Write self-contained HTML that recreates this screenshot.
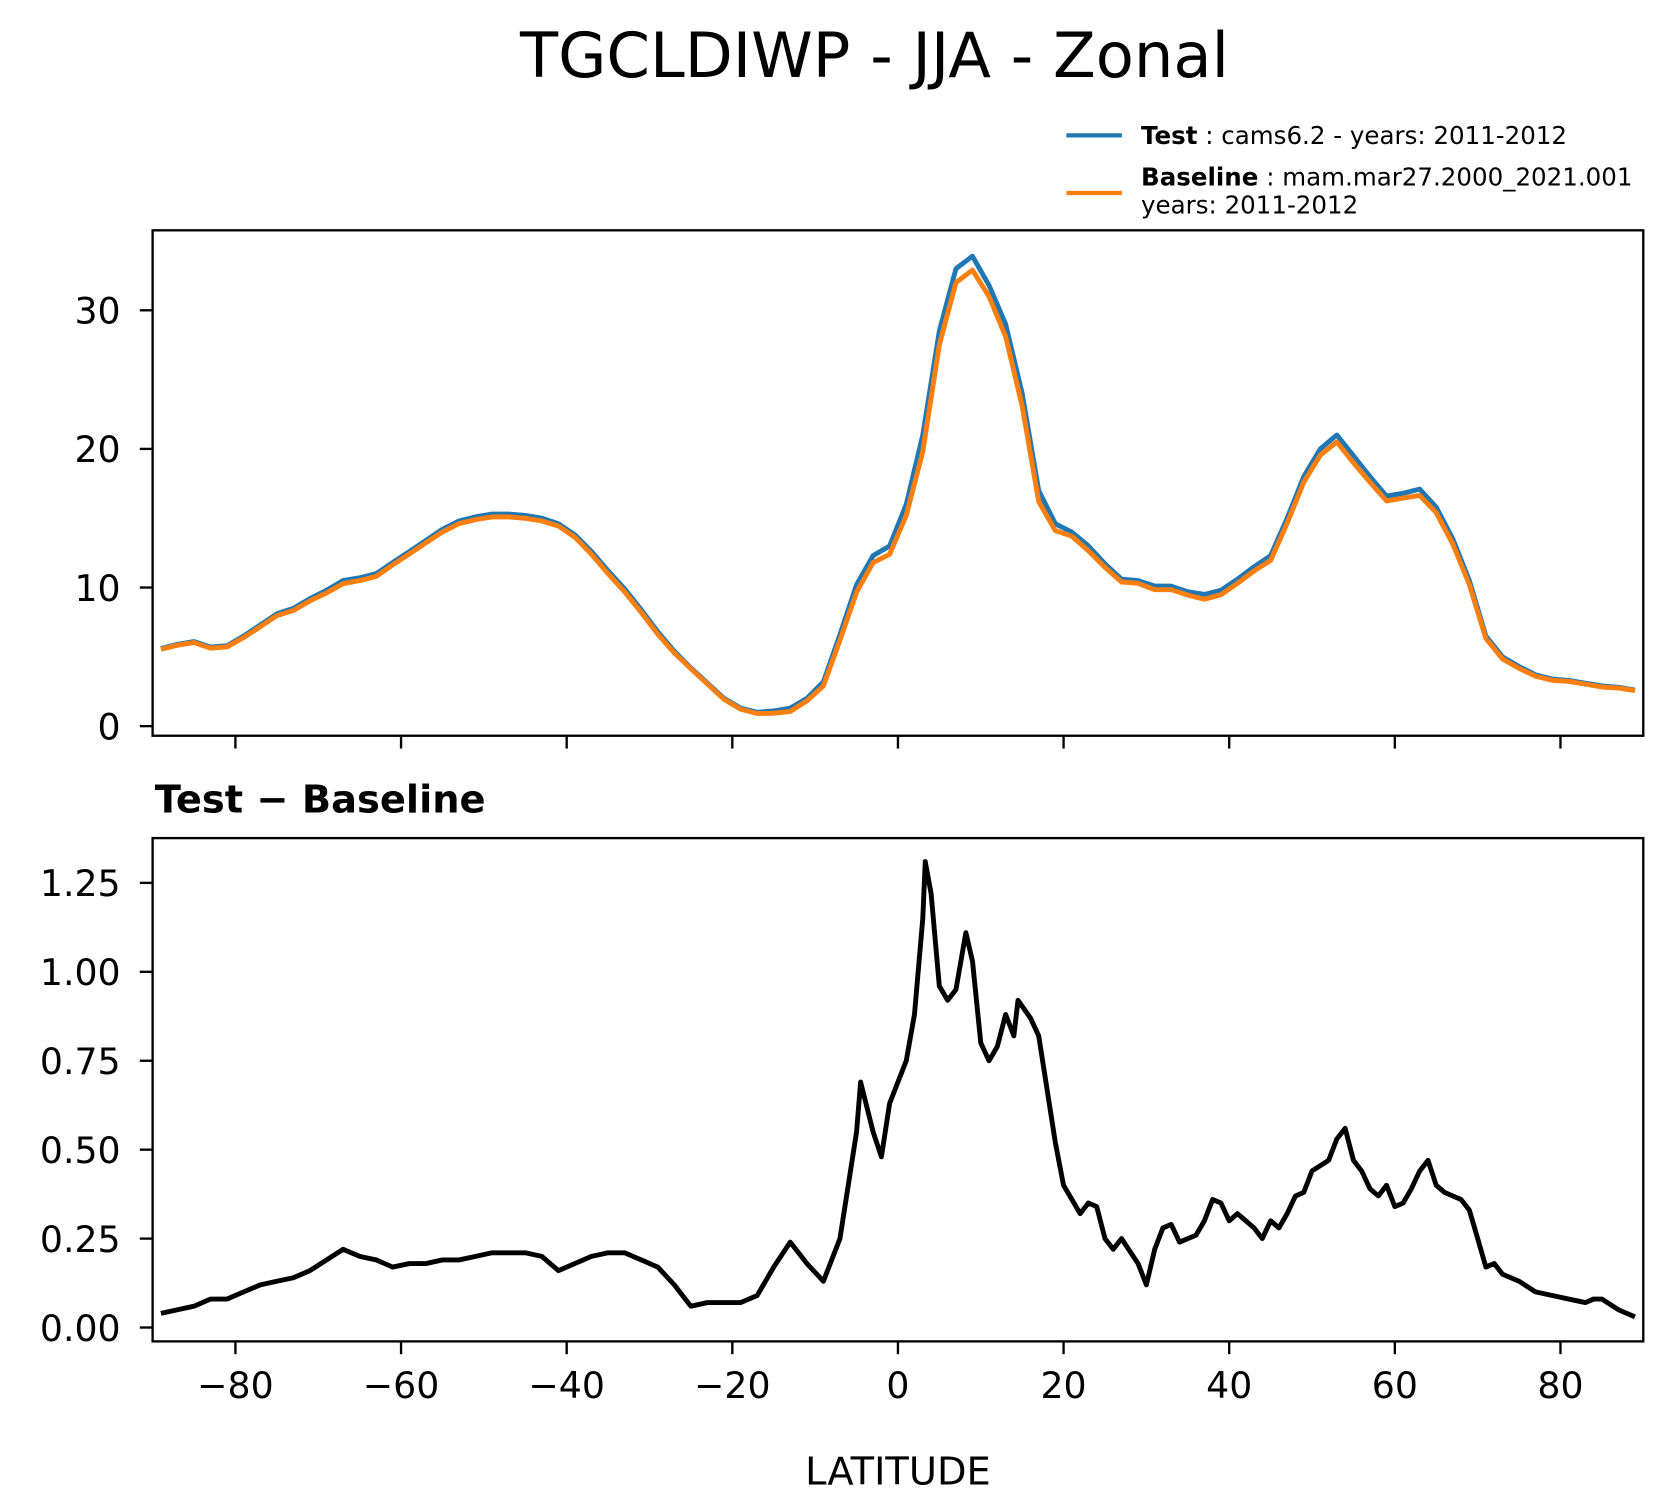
<!DOCTYPE html>
<html><head><meta charset="utf-8"><style>
body{margin:0;background:#fff;}
svg{display:block;font-family:"DejaVu Sans","Liberation Sans",sans-serif;}
</style></head><body>
<svg id="chart" width="1669" height="1496" viewBox="0 0 1565 1403">
<rect width="1565" height="1403" fill="#fff"/>
<text x="820" y="72" font-size="58.5" text-anchor="middle">TGCLDIWP - JJA - Zonal</text>
<g>
 <line x1="1000" y1="127" x2="1052" y2="127" stroke="#1f77b4" stroke-width="4"/>
 <text x="1070" y="135" font-size="23"><tspan font-weight="bold">Test</tspan> : cams6.2 - years: 2011-2012</text>
 <line x1="1000" y1="181" x2="1052" y2="181" stroke="#ff7f0e" stroke-width="4"/>
 <text x="1070" y="174" font-size="23"><tspan font-weight="bold">Baseline</tspan> : mam.mar27.2000_2021.001</text>
 <text x="1070" y="200" font-size="23">years: 2011-2012</text>
</g>
<text x="145" y="762" font-size="36" font-weight="bold">Test − Baseline</text>
<text x="842" y="1392" font-size="36" text-anchor="middle">LATITUDE</text>
<g id="gtop"></g>
<g id="gbot"></g>
</svg>
<script>
const topLat=[-89,-87,-85,-83,-81,-79,-77,-75,-73,-71,-69,-67,-65,-63,-61,-59,-57,-55,-53,-51,-49,-47,-45,-43,-41,-39,-37,-35,-33,-31,-29,-27,-25,-23,-21,-19,-17,-15,-13,-11,-9,-7,-5,-3,-1,1,3,5,7,9,11,13,15,17,19,21,23,25,27,29,31,33,35,37,39,41,43,45,47,49,51,53,55,57,59,61,63,65,67,69,71,73,75,77,79,81,83,85,87,89];
const testVals=[5.6,5.9,6.1,5.7,5.8,6.5,7.3,8.1,8.5,9.2,9.8,10.5,10.7,11.0,11.8,12.6,13.4,14.2,14.8,15.1,15.3,15.3,15.2,15.0,14.6,13.8,12.6,11.2,9.9,8.4,6.8,5.4,4.2,3.1,2.0,1.3,1.0,1.1,1.3,2.0,3.2,6.6,10.2,12.3,13.0,16.0,21.0,28.5,33.0,33.9,31.8,29.0,24.0,17.0,14.6,14.0,13.0,11.7,10.6,10.5,10.1,10.1,9.7,9.5,9.8,10.6,11.5,12.3,15.0,18.0,20.0,21.0,19.5,18.0,16.6,16.8,17.1,15.8,13.5,10.5,6.5,5.0,4.3,3.7,3.4,3.3,3.1,2.9,2.8,2.6];
const baseVals=[5.55,5.84,6.03,5.62,5.72,6.39,7.18,7.97,8.35,9.04,9.61,10.28,10.5,10.81,11.63,12.42,13.22,14.01,14.61,14.9,15.09,15.09,14.99,14.8,14.44,13.62,12.4,10.99,9.69,8.21,6.63,5.28,4.14,3.03,1.93,1.23,0.91,0.93,1.06,1.82,2.9,6.2,9.65,11.8,12.4,15.2,19.8,27.5,32.0,32.9,31.0,28.1,23.1,16.2,14.1,13.7,12.65,11.45,10.4,10.3,9.85,9.85,9.45,9.15,9.48,10.3,11.2,11.95,14.63,17.6,19.55,20.5,19.0,17.6,16.25,16.45,16.65,15.4,13.13,10.2,6.32,4.85,4.17,3.6,3.31,3.22,3.03,2.82,2.75,2.57];
const diffLat=[-89,-87,-85,-83,-81,-79,-77,-75,-73,-71,-69,-67,-65,-63,-61,-59,-57,-55,-53,-51,-49,-47,-45,-43,-41,-39,-37,-35,-33,-31,-29,-27,-25,-23,-21,-19,-17,-15,-13,-11,-9,-7,-5,-4.5,-3,-2,-1,1,2,3,3.3,4,5,6,7,8.2,9,10,11,12,13,14,14.5,16,17,19,20,22,23,24,25,26,27,29,30,31,32,33,34,36,37,38,39,40,41,43,44,45,46,47,48,49,50,52,53,54,55,56,57,58,59,60,61,62,63,64,65,66,67,68,69,70,71,72,73,75,77,79,81,83,84,85,87,88,89];
const diffVals=[0.04,0.05,0.06,0.08,0.08,0.10,0.12,0.13,0.14,0.16,0.19,0.22,0.20,0.19,0.17,0.18,0.18,0.19,0.19,0.20,0.21,0.21,0.21,0.20,0.16,0.18,0.20,0.21,0.21,0.19,0.17,0.12,0.06,0.07,0.07,0.07,0.09,0.17,0.24,0.18,0.13,0.25,0.55,0.69,0.55,0.48,0.63,0.75,0.88,1.15,1.31,1.22,0.96,0.92,0.95,1.11,1.03,0.80,0.75,0.79,0.88,0.82,0.92,0.87,0.82,0.52,0.40,0.32,0.35,0.34,0.25,0.22,0.25,0.18,0.12,0.22,0.28,0.29,0.24,0.26,0.30,0.36,0.35,0.30,0.32,0.28,0.25,0.30,0.28,0.32,0.37,0.38,0.44,0.47,0.53,0.56,0.47,0.44,0.39,0.37,0.40,0.34,0.35,0.39,0.44,0.47,0.40,0.38,0.37,0.36,0.33,0.25,0.17,0.18,0.15,0.13,0.10,0.09,0.08,0.07,0.08,0.08,0.05,0.04,0.03];
const xTicks=[-80,-60,-40,-20,0,20,40,60,80];
const topTicks=[0,10,20,30];
const botTicks=[0,0.25,0.5,0.75,1.0,1.25];
const botTickLabels=["0.00","0.25","0.50","0.75","1.00","1.25"];

const NS="http://www.w3.org/2000/svg";
const X0=143,X1=1541;
const xs=v=>X0+(v+90)/180*(X1-X0);
const yTop=v=>681-v*13;
const yBot=v=>1245-v*333.6;
function mk(tag,attrs,parent){const e=document.createElementNS(NS,tag);for(const k in attrs)e.setAttribute(k,attrs[k]);parent.appendChild(e);return e;}
function panel(g,yt,yb,yf,ticks,labels,showX){
  const frame=mk('rect',{x:X0,y:yt,width:X1-X0,height:yb-yt,fill:'none',stroke:'#000','stroke-width':2.2},g);
  
  
  xTicks.forEach(t=>{
    const l=mk('line',{x1:xs(t),x2:xs(t),y1:yb,y2:yb+12,stroke:'#000','stroke-width':2.2},g);
    
    
    if(showX){const tx=mk('text',{x:xs(t),y:yb+53,'font-size':34,'text-anchor':'middle'},g);tx.textContent=(t<0?'−'+(-t):t);
      
      }
  });
  ticks.forEach((t,i)=>{
    const l=mk('line',{x1:X0-12,x2:X0,y1:yf(t),y2:yf(t),stroke:'#000','stroke-width':2.2},g);
    
    
    const tx=mk('text',{x:X0-30,y:yf(t)+12.5,'font-size':34,'text-anchor':'end'},g);tx.textContent=labels[i];
    
    
  });
}
function drawLine(g,lat,vals,yf,col,name){
  const d=lat.map((a,i)=>(i?'L':'M')+xs(a).toFixed(1)+','+yf(vals[i]).toFixed(1)).join('');
  const p=mk('path',{d:d,fill:'none',stroke:col,'stroke-width':4.6,'stroke-linejoin':'round','clip-path':'url(#cp)'},g);
  
  
}
const gTop=document.getElementById('gtop'),gBot=document.getElementById('gbot');
const defs=mk('defs',{},document.getElementById('chart'));
const cp=mk('clipPath',{id:'cp'},defs);
mk('rect',{x:X0,y:0,width:X1-X0,height:1403},cp);
drawLine(gTop,topLat,testVals,yTop,'#1f77b4','test-line');
drawLine(gTop,topLat,baseVals,yTop,'#ff7f0e','baseline-line');
panel(gTop,216,690,yTop,topTicks,topTicks.map(String),false);
drawLine(gBot,diffLat,diffVals,yBot,'#000','diff-line');
panel(gBot,786,1258,yBot,botTicks,botTickLabels,true);
</script>
</body></html>
